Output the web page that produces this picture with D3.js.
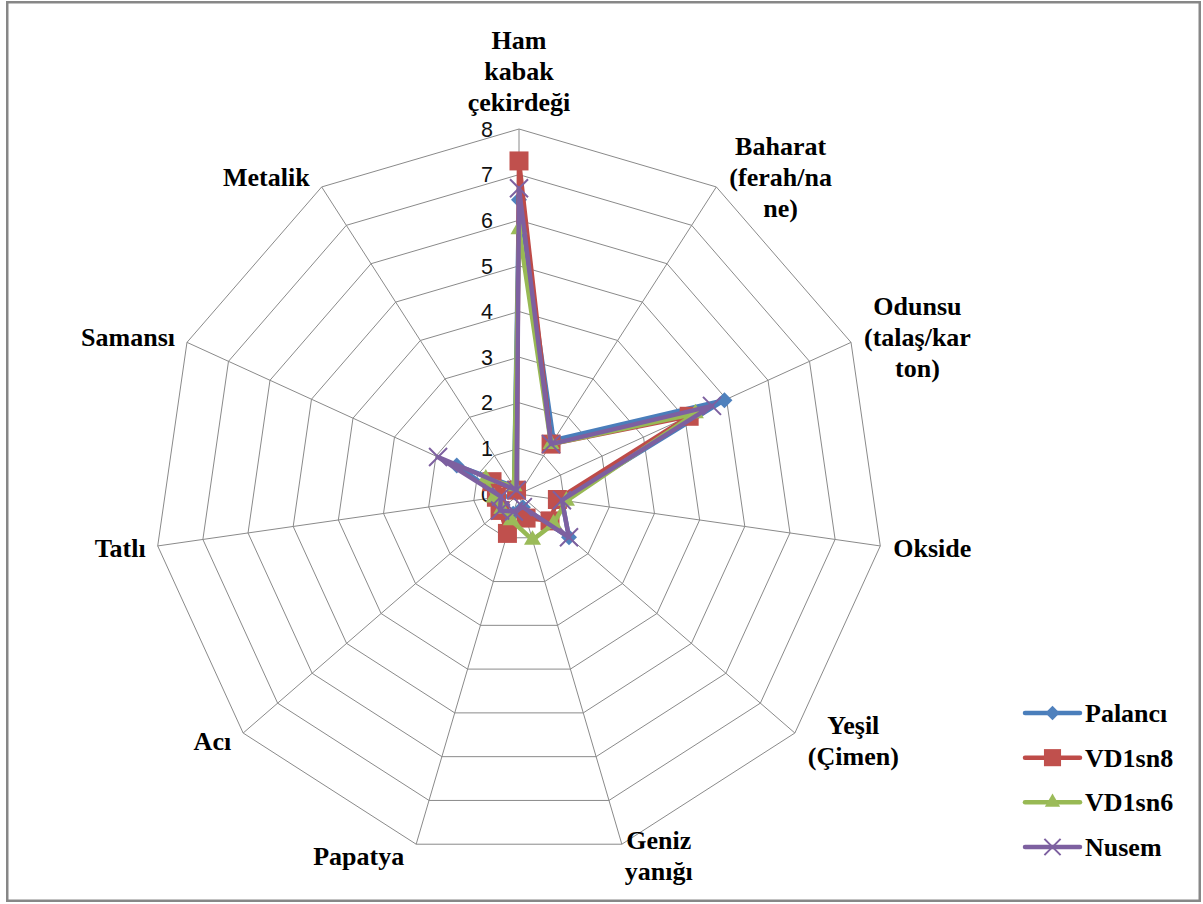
<!DOCTYPE html>
<html>
<head>
<meta charset="utf-8">
<script src="https://cdn.jsdelivr.net/npm/d3@7"></script>
<style>
  html, body { margin: 0; padding: 0; background: #ffffff; }
  svg { display: block; }
</style>
</head>
<body>
<svg id="chart" width="1203" height="904"></svg>
<script>
// Sensory attributes (axis labels, already split into display lines)
const categories = [
  ["Ham", "kabak", "çekirdeği"],
  ["Baharat", "(ferah/na", "ne)"],
  ["Odunsu", "(talaş/kar", "ton)"],
  ["Okside"],
  ["Yeşil", "(Çimen)"],
  ["Geniz", "yanığı"],
  ["Papatya"],
  ["Acı"],
  ["Tatlı"],
  ["Samansı"],
  ["Metalik"]
];

const seriesNames = ["Palancı", "VD1sn8", "VD1sn6", "Nusem"];

// Panel scores per attribute, in the order of `categories`
const palanci = [6.45, 1.4, 4.95, 0.95, 1.45, 0.3, 0.45, 0.5, 0.4, 1.5, 0.2];
const vd1sn8  = [7.3, 1.3, 4.1, 0.85, 0.9, 0.55, 0.9, 0.55, 0.5, 0.65, 0.1];
const vd1sn6  = [5.8, 1.3, 4.25, 1.05, 1.0, 1.05, 0.6, 0.5, 0.55, 0.8, 0.2];
const nusem   = [6.7, 1.3, 4.65, 0.95, 1.45, 0.3, 0.4, 0.55, 0.4, 1.95, 0.1];

const tickValues = [0, 1, 2, 3, 4, 5, 6, 7, 8];

// ---- layout & style ----
const W = 1203, H = 904;
const cx = 519, cy = 494, R = 365;
const labelFont = "'Liberation Serif', 'Times New Roman', serif";
const tickFont = "'Liberation Sans', Arial, sans-serif";

const styles = [
  { line: "#4A7EBB", fill: "#4F81BD", marker: "diamond" },
  { line: "#BE4B48", fill: "#C0504D", marker: "square" },
  { line: "#98B954", fill: "#9BBB59", marker: "triangle" },
  { line: "#7D60A0", fill: "#8064A2", marker: "x" }
];

const seriesValues = [palanci, vd1sn8, vd1sn6, nusem];
const series = seriesNames.map((name, i) => ({ name, values: seriesValues[i], style: styles[i] }));

const svg = d3.select("#chart");

svg.append("rect")
  .attr("x", 0).attr("y", 0).attr("width", W).attr("height", H)
  .attr("fill", "#ffffff");

// outer frame
svg.append("rect")
  .attr("x", 7.25).attr("y", 2.25).attr("width", 1192.5).attr("height", 898.5)
  .attr("fill", "none").attr("stroke", "#878787").attr("stroke-width", 2.5);

const n = categories.length;
const rScale = d3.scaleLinear().domain([0, d3.max(tickValues)]).range([0, R]);
const aScale = d3.scaleLinear().domain([0, n]).range([0, 2 * Math.PI]);

const px = (i, v) => cx + rScale(v) * Math.sin(aScale(i));
const py = (i, v) => cy - rScale(v) * Math.cos(aScale(i));

const g = svg.append("g");

// grid rings
const ringLine = d3.line().curve(d3.curveLinearClosed);
g.append("g").selectAll("path")
  .data(tickValues.filter(t => t > 0))
  .join("path")
  .attr("d", t => ringLine(d3.range(n).map(i => [px(i, t), py(i, t)])))
  .attr("fill", "none")
  .attr("stroke", "#8a8a8a")
  .attr("stroke-width", 1);

// spokes
g.append("g").selectAll("line")
  .data(d3.range(n))
  .join("line")
  .attr("x1", cx).attr("y1", cy)
  .attr("x2", i => px(i, d3.max(tickValues)))
  .attr("y2", i => py(i, d3.max(tickValues)))
  .attr("stroke", "#8a8a8a")
  .attr("stroke-width", 1);

// tick labels along the first axis
g.append("g").selectAll("text")
  .data(tickValues)
  .join("text")
  .attr("x", cx - 26)
  .attr("y", t => cy - rScale(t))
  .attr("dy", "0.36em")
  .attr("text-anchor", "end")
  .attr("font-family", tickFont)
  .attr("font-size", 21.5)
  .attr("fill", "#111")
  .text(t => t);

// axis labels: placed just outside each spoke's outer vertex
const lh = 31;
const labelG = g.append("g");
categories.forEach((lines, i) => {
  const a = aScale(i), s = Math.sin(a), c = Math.cos(a);
  const vx = px(i, d3.max(tickValues)), vy = py(i, d3.max(tickValues));
  const t = labelG.append("text")
    .attr("font-family", labelFont)
    .attr("font-weight", "bold")
    .attr("font-size", 26)
    .attr("fill", "#000")
    .attr("text-anchor", "middle");
  lines.forEach((ln, k) => {
    t.append("tspan").attr("x", 0).attr("y", k * lh).text(ln);
  });
  const widths = [];
  t.selectAll("tspan").each(function () { widths.push(this.getComputedTextLength()); });
  const hw = d3.max(widths) / 2;
  const hh = lines.length * lh / 2;
  let bx;
  if (s > 0.5) bx = vx + 13 + hw;
  else if (s > 0.2) bx = vx + 3 + hw;
  else if (s < -0.2) bx = vx - 12 - hw;
  else bx = vx;
  let by = vy - c * 12;
  if (Math.abs(s) <= 0.2) by -= c * hh;
  const firstCenter = by - (lines.length - 1) * lh / 2;
  t.attr("transform", `translate(${bx},${firstCenter})`);
  t.selectAll("tspan").attr("dy", "0.35em");
});

// series
const seriesLine = d3.line().curve(d3.curveLinearClosed);

function drawMarker(sel, type, fill, stroke, size) {
  if (type === "x") {
    const h = size / 2;
    sel.append("path")
      .attr("d", `M${-h},${-h}L${h},${h}M${-h},${h}L${h},${-h}`)
      .attr("stroke", stroke).attr("stroke-width", 2).attr("fill", "none");
  } else if (type === "diamond") {
    sel.append("path")
      .attr("d", d3.symbol(d3.symbolSquare, size * size * 0.5)())
      .attr("transform", "rotate(45)")
      .attr("fill", fill);
  } else if (type === "square") {
    sel.append("path")
      .attr("d", d3.symbol(d3.symbolSquare, size * size)())
      .attr("fill", fill);
  } else if (type === "triangle") {
    sel.append("path")
      .attr("d", d3.symbol(d3.symbolTriangle, size * size * Math.sqrt(3) / 4)())
      .attr("fill", fill);
  }
}

const markerSize = { diamond: 16, square: 19, triangle: 17, x: 18 };

series.forEach(sr => {
  const sg = g.append("g");
  const pts = sr.values.map((v, i) => [px(i, v), py(i, v)]);
  sg.append("path")
    .attr("d", seriesLine(pts))
    .attr("fill", "none")
    .attr("stroke", sr.style.line)
    .attr("stroke-width", 4.5)
    .attr("stroke-linejoin", "round");
  pts.forEach(p => {
    const m = sg.append("g").attr("transform", `translate(${p[0]},${p[1]})`);
    drawMarker(m, sr.style.marker, sr.style.fill, sr.style.line, markerSize[sr.style.marker]);
  });
});

// legend
const legend = svg.append("g");
const legendY = d3.scaleLinear().domain([0, series.length - 1]).range([713, 847]);
series.forEach((sr, i) => {
  const y = legendY(i);
  const lg = legend.append("g");
  lg.append("line")
    .attr("x1", 1025).attr("x2", 1080).attr("y1", y).attr("y2", y)
    .attr("stroke", sr.style.line).attr("stroke-width", 4.5)
    .attr("stroke-linecap", "round");
  const m = lg.append("g").attr("transform", `translate(1052.5,${y})`);
  drawMarker(m, sr.style.marker, sr.style.fill, sr.style.line, markerSize[sr.style.marker] * 0.9);
  lg.append("text")
    .attr("x", 1085).attr("y", y).attr("dy", "0.35em")
    .attr("font-family", labelFont)
    .attr("font-weight", "bold")
    .attr("font-size", 26)
    .attr("fill", "#000")
    .text(sr.name);
});
</script>
</body>
</html>
